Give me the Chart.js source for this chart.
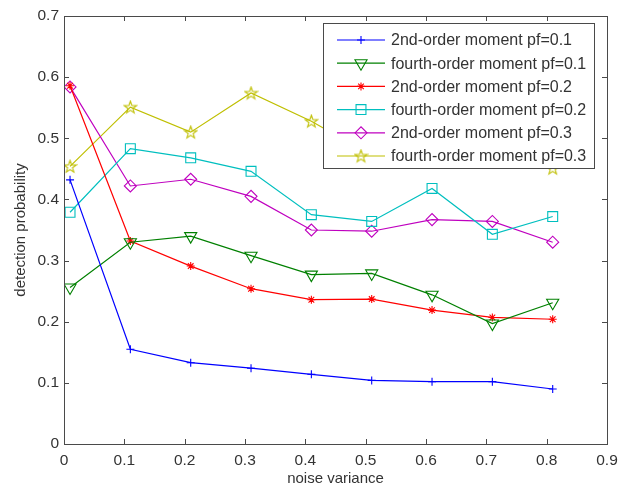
<!doctype html>
<html>

<head>
	<title>Detection probability vs noise variance</title>
	<script src="https://cdn.jsdelivr.net/npm/chart.js"></script>
	<style>
		body {
			margin: 0;
			background: #fff;
		}
		canvas {
			display: block;
		}
	</style>
</head>

<body>
	<canvas id="canvas" width="628" height="488"></canvas>
	<script>
		var noiseVariance = [0.01, 0.11, 0.21, 0.31, 0.41, 0.51, 0.61, 0.71, 0.81];
		var xTicks = [0, 0.1, 0.2, 0.3, 0.4, 0.5, 0.6, 0.7, 0.8, 0.9];
		var yTicks = [0, 0.1, 0.2, 0.3, 0.4, 0.5, 0.6, 0.7];

		var second01 = [0.432, 0.155, 0.133, 0.124, 0.114, 0.104, 0.102, 0.102, 0.090];
		var fourth01 = [0.256, 0.330, 0.340, 0.308, 0.277, 0.279, 0.244, 0.197, 0.231];
		var second02 = [0.586, 0.332, 0.291, 0.254, 0.236, 0.237, 0.219, 0.207, 0.204];
		var fourth02 = [0.379, 0.483, 0.468, 0.446, 0.375, 0.364, 0.418, 0.343, 0.372];
		var second03 = [0.584, 0.422, 0.433, 0.405, 0.350, 0.348, 0.367, 0.364, 0.330];
		var fourth03 = [0.454, 0.551, 0.510, 0.574, 0.528, 0.472, 0.500, 0.480, 0.451];

		var seriesNames = [
			'2nd-order moment pf=0.1',
			'fourth-order moment pf=0.1',
			'2nd-order moment pf=0.2',
			'fourth-order moment pf=0.2',
			'2nd-order moment pf=0.3',
			'fourth-order moment pf=0.3'
		];

		var FONT = '"Liberation Sans", Arial, Helvetica, sans-serif';
		var TEXT = '#333333';

		// pentagram marker (not one of the built-in point styles)
		function makeStar(color, size) {
			var c = document.createElement('canvas');
			c.width = size;
			c.height = size;
			var g = c.getContext('2d');
			var cx = size / 2, cy = size / 2 + 0.5, R = size / 2 - 1, r = R * 0.4;
			g.beginPath();
			for (var i = 0; i < 10; i++) {
				var rad = (i % 2 ? r : R);
				var a = -Math.PI / 2 + i * Math.PI / 5;
				g.lineTo(cx + rad * Math.cos(a), cy + rad * Math.sin(a));
			}
			g.closePath();
			g.strokeStyle = color;
			g.lineWidth = 1.1;
			g.stroke();
			return c;
		}

		function toPoints(values) {
			return values.map(function(v, i) {
				return {x: noiseVariance[i], y: v};
			});
		}

		var colors = ['#0000ff', '#008000', '#ff0000', '#00bfbf', '#bf00bf', '#bfbf00'];

		var datasets = [
			{data: second01, pointStyle: 'cross', pointRadius: 4, rot: 0},
			{data: fourth01, pointStyle: 'triangle', pointRadius: 7, rot: 180},
			{data: second02, pointStyle: 'star', pointRadius: 4, rot: 0},
			{data: fourth02, pointStyle: 'rect', pointRadius: 7, rot: 0},
			{data: second03, pointStyle: 'rectRot', pointRadius: 6, rot: 0},
			{data: fourth03, pointStyle: makeStar(colors[5], 15), pointRadius: 7, rot: 0}
		].map(function(d, i) {
			return {
				label: seriesNames[i],
				data: toPoints(d.data),
				borderColor: colors[i],
				backgroundColor: 'rgba(0,0,0,0)',
				borderWidth: 1.2,
				pointStyle: d.pointStyle,
				pointRadius: d.pointRadius,
				pointRotation: d.rot,
				pointBorderColor: colors[i],
				pointBackgroundColor: 'rgba(0,0,0,0)',
				pointBorderWidth: 1.1,
				tension: 0,
				fill: false
			};
		});

		// axes box with inward ticks, MATLAB style
		var boxPlugin = {
			id: 'box',
			afterDatasetsDraw: function(chart) {
				var ctx = chart.ctx, a = chart.chartArea;
				var x = chart.scales.x, y = chart.scales.y;
				ctx.save();
				ctx.strokeStyle = '#4a4a4a';
				ctx.lineWidth = 1;
				ctx.strokeRect(Math.round(a.left) + 0.5, Math.round(a.top) + 0.5,
					Math.round(a.right - a.left), Math.round(a.bottom - a.top));
				ctx.beginPath();
				xTicks.forEach(function(t) {
					var px = Math.round(x.getPixelForValue(t)) + 0.5;
					ctx.moveTo(px, a.bottom);
					ctx.lineTo(px, a.bottom - 5);
					ctx.moveTo(px, a.top);
					ctx.lineTo(px, a.top + 5);
				});
				yTicks.forEach(function(t) {
					var py = Math.round(y.getPixelForValue(t)) + 0.5;
					ctx.moveTo(a.left, py);
					ctx.lineTo(a.left + 5, py);
					ctx.moveTo(a.right, py);
					ctx.lineTo(a.right - 5, py);
				});
				ctx.stroke();
				ctx.restore();
			}
		};

		// boxed legend inside the plot, top right
		var legendPlugin = {
			id: 'boxLegend',
			afterDraw: function(chart) {
				var ctx = chart.ctx;
				var bx = 323.5, by = 23.5, bw = 271, bh = 145;
				ctx.save();
				ctx.fillStyle = '#ffffff';
				ctx.fillRect(bx, by, bw, bh);
				ctx.strokeStyle = '#4a4a4a';
				ctx.lineWidth = 1;
				ctx.strokeRect(bx, by, bw, bh);
				ctx.font = '16px ' + FONT;
				ctx.textBaseline = 'middle';
				chart.data.datasets.forEach(function(ds, i) {
					var cy = 40 + i * 23.2;
					ctx.strokeStyle = ds.borderColor;
					ctx.lineWidth = ds.borderWidth;
					ctx.beginPath();
					ctx.moveTo(337, cy);
					ctx.lineTo(385, cy);
					ctx.stroke();
					ctx.fillStyle = 'rgba(0,0,0,0)';
					ctx.lineWidth = ds.pointBorderWidth;
					Chart.helpers.drawPoint(ctx, {
						pointStyle: ds.pointStyle,
						radius: ds.pointRadius,
						rotation: ds.pointRotation,
						borderWidth: ds.pointBorderWidth
					}, 361, cy);
					ctx.fillStyle = TEXT;
					ctx.fillText(ds.label, 391, cy + 1);
				});
				ctx.restore();
			}
		};

		var config = {
			type: 'line',
			data: {datasets: datasets},
			options: {
				responsive: false,
				animation: false,
				layout: {
					padding: {left: 0, right: 21, top: 16, bottom: 0}
				},
				plugins: {
					legend: {display: false},
					tooltip: {enabled: false}
				},
				scales: {
					x: {
						type: 'linear',
						min: 0,
						max: 0.9,
						afterFit: function(scale) {
							scale.height = 44;
						},
						afterBuildTicks: function(scale) {
							scale.ticks = xTicks.map(function(v) {
								return {value: v};
							});
						},
						ticks: {
							padding: 7,
							maxRotation: 0,
							color: TEXT,
							font: {family: FONT, size: 15.5}
						},
						grid: {display: false, drawTicks: false},
						border: {display: false},
						title: {
							display: true,
							text: 'noise variance',
							color: TEXT,
							font: {family: FONT, size: 15},
							padding: {top: 0, bottom: 0}
						}
					},
					y: {
						type: 'linear',
						min: 0,
						max: 0.7,
						afterFit: function(scale) {
							scale.width = 64;
						},
						afterBuildTicks: function(scale) {
							scale.ticks = yTicks.map(function(v) {
								return {value: v};
							});
						},
						ticks: {
							padding: 5,
							color: TEXT,
							font: {family: FONT, size: 15.5}
						},
						grid: {display: false, drawTicks: false},
						border: {display: false},
						title: {
							display: true,
							text: 'detection probability',
							color: TEXT,
							font: {family: FONT, size: 15},
							padding: {top: 12, bottom: 0}
						}
					}
				}
			},
			plugins: [boxPlugin, legendPlugin]
		};

		window.onload = function() {
			window.myChart = new Chart(document.getElementById('canvas'), config);
		};
	</script>
</body>

</html>
